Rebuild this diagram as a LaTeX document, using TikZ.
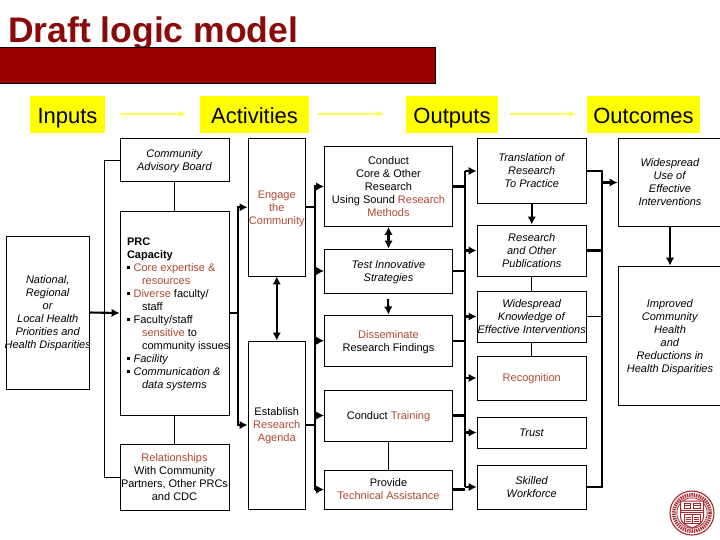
\documentclass[tikz,border=0pt]{standalone}
\usepackage{fontspec}
\setmainfont{Liberation Sans}
\usetikzlibrary{arrows.meta}
\definecolor{band}{HTML}{990000}
\definecolor{titlered}{HTML}{8A0A0A}
\definecolor{hl}{HTML}{AE4A30}
\definecolor{ylw}{HTML}{FFFF00}
\definecolor{ylwline}{HTML}{FFFF55}
\definecolor{seal}{HTML}{A8252B}
\newcommand\cl[1]{\raisebox{-1.2pt}[\height][\depth]{\makebox[0pt]{\begin{tabular}{@{}c@{}}#1\end{tabular}}}}
\newcommand\hl[1]{\textcolor{hl}{#1}}
\newcommand\bul{\rule[2.6pt]{2.6pt}{2.6pt}\hspace{4pt}}
\newcommand\ind{\hspace{15pt}}
\newcommand\bbox[6]{\node[boxed,minimum width={(#4-#2)*1pt},minimum height={(#5-#3)*1pt}] (#1) at ({(#2+#4)/2},{(#3+#5)/2}) {\cl{#6}};}
\newcommand\head[6]{\node[headbox,minimum width={(#4-#2)*1pt},minimum height={(#5-#3)*1pt}] (#1) at ({(#2+#4)/2},{(#3+#5)/2}) {#6};}
\tikzset{
  boxed/.style={draw=black,line width=.9pt,fill=white,inner sep=0pt,font=\fontsize{11}{13}\selectfont},
  headbox/.style={fill=ylw,inner sep=0pt,text height=20pt,text depth=1pt,font=\fontsize{22}{24}\selectfont},
  thinline/.style={draw=black,line width=.9pt},
  thickline/.style={draw=black,line width=2.1pt},
  arrowline/.style={thickline,-{Latex[length=8pt,width=8.5pt]}},
  biline/.style={thickline,{Latex[length=8pt,width=8.5pt]}-{Latex[length=8pt,width=8.5pt]}},
  yline/.style={draw=ylwline,line width=2pt,-{Latex[length=7pt,width=7pt]}}
}
\begin{document}
\begin{tikzpicture}[x=1pt,y=-1pt]
\clip (0,0) rectangle (720,540);
\fill[white] (0,0) rectangle (720,540);
% title and band
\node[anchor=base west,inner sep=0pt,text=titlered,font=\fontsize{35.5}{38}\selectfont\bfseries] (title) at (8,43) {Draft logic model};
\node[draw=black,line width=.8pt,fill=band,minimum width=436pt,minimum height=36pt,inner sep=0pt] (bandbar) at (217,65) {};
% column heads
\head{hin}{30}{96}{105}{133}{Inputs}
\head{hac}{200}{96}{309}{133}{Activities}
\head{hou}{406}{96}{498}{133}{Outputs}
\head{hoc}{587}{96}{700}{133}{Outcomes}
\coordinate (ya1) at (120,114);\coordinate (ya2) at (186,114);
\coordinate (yb1) at (318,114);\coordinate (yb2) at (384,114);
\coordinate (yc1) at (510,114);\coordinate (yc2) at (576,114);
\draw[yline] (ya1) -- (ya2);
\draw[yline] (yb1) -- (yb2);
\draw[yline] (yc1) -- (yc2);
% bus positions
\coordinate (busin) at (104.5,0);
\coordinate (busa) at (238,0);
\coordinate (busb) at (315,0);
\coordinate (busc) at (465,0);
\coordinate (busd) at (602,0);
% inputs and capacity
\bbox{natl}{6.5}{236}{89}{389}{\textit{National,}\\\textit{Regional}\\\textit{or}\\\textit{Local Health}\\\textit{Priorities and}\\\textit{Health Disparities}}
\bbox{cab}{120}{138.5}{229}{181.5}{\textit{Community}\\\textit{Advisory Board}}
\node[boxed,minimum width=109pt,minimum height=204pt] (prc) at (174.5,313) {\raisebox{-1.2pt}[\height][\depth]{\makebox[0pt][l]{\hspace{-47.5pt}\begin{tabular}{@{}l@{}}\textbf{PRC}\\\textbf{Capacity}\\\bul\hl{Core expertise \&}\\\ind\hl{resources}\\\bul\hl{Diverse} faculty/\\\ind staff\\\bul Faculty/staff\\\ind\hl{sensitive} to\\\ind community issues\\\bul\textit{Facility}\\\bul\textit{Communication \&}\\\ind\textit{data systems}\end{tabular}}}};
\bbox{rel}{120}{444}{229}{510}{\hl{Relationships}\\With Community\\Partners, Other PRCs\\and CDC}
% activities
\bbox{eng}{248}{138.5}{305.5}{276}{\hl{Engage}\\\hl{the}\\\hl{Community}}
\bbox{est}{248}{341}{305.5}{509}{Establish\\\hl{Research}\\\hl{Agenda}}
% outputs
\bbox{con}{324.5}{146.5}{452.5}{226.5}{Conduct\\Core \& Other\\Research\\Using Sound \hl{Research}\\\hl{Methods}}
\bbox{tes}{324.5}{249}{452.5}{293}{\textit{Test Innovative}\\\textit{Strategies}}
\bbox{dis}{324.5}{315}{452.5}{366.5}{\hl{Disseminate}\\Research Findings}
\bbox{tra}{324.5}{390}{452.5}{441}{Conduct \hl{Training}}
\bbox{pro}{324.5}{470}{452.5}{509}{Provide\\\hl{Technical Assistance}}
% short-term outcomes
\bbox{trn}{477}{138.5}{586.5}{203.5}{\textit{Translation of}\\\textit{Research}\\\textit{To Practice}}
\bbox{pub}{477}{225}{586.5}{276}{\textit{Research}\\\textit{and Other}\\\textit{Publications}}
\bbox{kno}{477}{291}{586.5}{342}{\textit{Widespread}\\\textit{Knowledge of}\\\textit{Effective Interventions}}
\bbox{rec}{477}{356}{586.5}{400}{\hl{Recognition}}
\bbox{tru}{477}{417}{586.5}{448}{\textit{Trust}}
\bbox{ski}{477}{465}{586.5}{509}{\textit{Skilled}\\\textit{Workforce}}
% long-term outcomes
\bbox{use}{618}{138.5}{722}{226.5}{\textit{Widespread}\\\textit{Use of}\\\textit{Effective}\\\textit{Interventions}}
\bbox{imp}{618}{266}{722}{405.5}{\textit{Improved}\\\textit{Community}\\\textit{Health}\\\textit{and}\\\textit{Reductions in}\\\textit{Health Disparities}}
% thin connectors
\draw[thinline] (cab.west) -- (busin |- cab.west) -- (busin |- rel.west) -- (rel.west);
\draw[thinline] (cab.south) -- (prc.north);
\draw[thinline] (prc.south) -- (rel.north);
\draw[thinline] (tra.south) -- (pro.north);
\draw[thinline] (pub.south) -- (kno.north);
\draw[thinline] (kno.south) -- (rec.north);
\draw[thinline] (kno.east) -- (busd |- kno.east);
% inputs to capacity
\draw[arrowline] (natl.east) -- (prc.west);
% capacity to activities
\draw[thickline] (prc.east) -- (busa |- prc.east);
\draw[arrowline] (busa |- prc.east) -- (busa |- eng.west) -- (eng.west);
\draw[arrowline] (busa |- prc.east) -- (busa |- est.west) -- (est.west);
\draw[biline] (eng.south) -- (est.north);
% activities to outputs
\draw[thickline] (eng.east) -- (busb |- eng.east);
\draw[thickline] (est.east) -- (busb |- est.east);
\draw[arrowline] (busb |- eng.east) -- (busb |- con.west) -- (con.west);
\draw[thickline] (busb |- con.west) -- (busb |- pro.west);
\draw[arrowline] (busb |- tes.west) -- (tes.west);
\draw[arrowline] (busb |- dis.west) -- (dis.west);
\draw[arrowline] (busb |- tra.west) -- (tra.west);
\draw[arrowline] (busb |- pro.west) -- (pro.west);
% outputs among themselves
\draw[biline] (con.south) -- (tes.north);
\coordinate (tesgap) at (388,299);
\draw[arrowline] (tesgap) -- (dis.north);
% outputs to short-term outcomes
\draw[thickline] (con.east) -- (busc |- con.east);
\draw[thickline] (tes.east) -- (busc |- tes.east);
\draw[thickline] (dis.east) -- (busc |- dis.east);
\draw[thickline] (tra.east) -- (busc |- tra.east);
\draw[thickline] (pro.east) -- (busc |- pro.east);
\draw[thickline] (busc |- trn.west) -- (busc |- ski.west);
\draw[arrowline] (busc |- trn.west) -- (trn.west);
\draw[arrowline] (busc |- pub.west) -- (pub.west);
\draw[arrowline] (busc |- kno.west) -- (kno.west);
\draw[arrowline] (busc |- rec.west) -- (rec.west);
\draw[arrowline] (busc |- tru.west) -- (tru.west);
\draw[arrowline] (busc |- ski.west) -- (ski.west);
\draw[arrowline] (trn.south) -- (pub.north);
% short-term to long-term outcomes
\draw[thickline] (trn.east) -- (busd |- trn.east) -- (busd |- ski.east) -- (ski.east);
\draw[thickline] (pub.east) -- (busd |- pub.east);
\draw[arrowline] (busd |- use.west) -- (use.west);
\draw[arrowline] (use.south) -- (imp.north);
% seal
\begin{scope}[shift={(692,513)},seal]
  \draw[line width=1.1pt] (0,0) circle (22);
  \draw[line width=3.6pt,dash pattern=on 1.3pt off 1pt] (0,0) circle (18.2);
  \draw[line width=.8pt] (0,0) circle (15.2);
  \draw[line width=1pt,fill=white] (-11.5,-12) -- (11.5,-12) -- (11.5,4) .. controls (11.5,10) and (5,13) .. (0,15) .. controls (-5,13) and (-11.5,10) .. (-11.5,4) -- cycle;
  \draw[line width=.9pt] (-11.5,-2.5) -- (11.5,-2.5) (-11.5,-1) -- (11.5,-1);
  \draw[line width=.8pt] (-8,-10) rectangle (-1.5,-4.5) (1.5,-10) rectangle (8,-4.5);
  \draw[line width=.7pt] (-8,-7.5) -- (-1.5,-7.5) (1.5,-7.5) -- (8,-7.5);
  \draw[line width=.8pt] (-8,1.5) rectangle (8,10) (0,1.5) -- (0,10);
  \draw[line width=.6pt] (-6.5,4) -- (-1.5,4) (-6.5,6) -- (-1.5,6) (-6.5,8) -- (-1.5,8) (1.5,4) -- (6.5,4) (1.5,6) -- (6.5,6) (1.5,8) -- (6.5,8);
\end{scope}
\end{tikzpicture}
\end{document}
